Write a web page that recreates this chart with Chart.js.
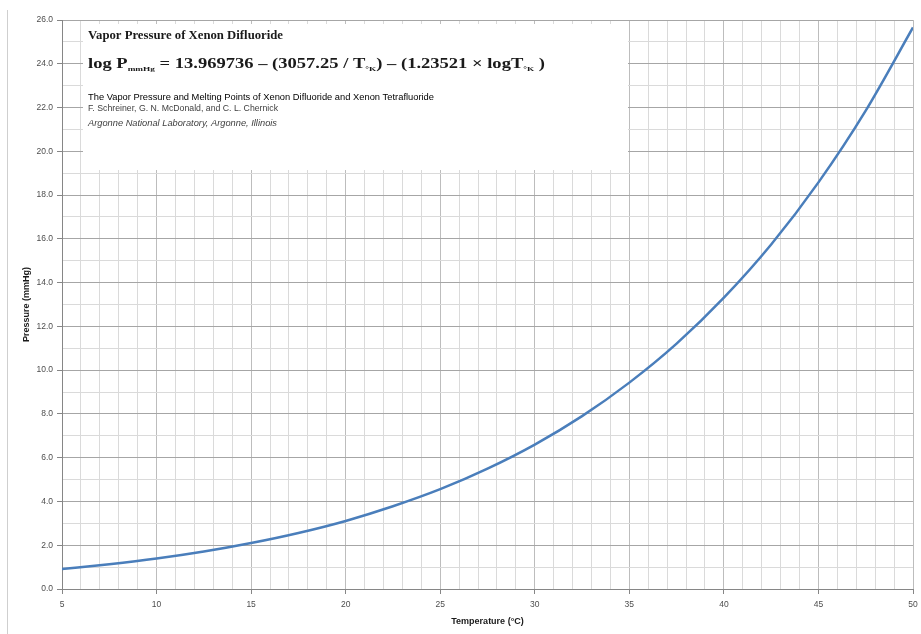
<!DOCTYPE html>
<html><head><meta charset="utf-8">
<style>html,body{margin:0;padding:0;background:#fff;}#wrap{width:921px;height:634px;position:relative;}</style>
<script src="https://cdn.jsdelivr.net/npm/chart.js@4.4.0/dist/chart.umd.min.js"></script>
</head><body><div id="wrap"><canvas id="c" width="921" height="634"></canvas></div>
<script>
// Data
const temperatureC = [5, 7.5, 10, 12.5, 15, 17.5, 20, 22.5, 25, 27.5, 30, 32.5, 35, 37.5, 40, 42.5, 45, 47.5, 50];
const pressureMmHg = [0.91, 1.13, 1.39, 1.71, 2.10, 2.56, 3.11, 3.78, 4.56, 5.50, 6.60, 7.90, 9.43, 11.21, 13.31, 15.74, 18.58, 21.86, 25.66];
const xTickLabels = [5, 10, 15, 20, 25, 30, 35, 40, 45, 50];
const yTickLabels = [0, 2, 4, 6, 8, 10, 12, 14, 16, 18, 20, 22, 24, 26];
const xTitle = 'Temperature (°C)';
const yTitle = 'Pressure (mmHg)';
const boxTitle = 'Vapor Pressure of Xenon Difluoride';
const refLine1 = 'The Vapor Pressure and Melting Points of Xenon Difluoride and Xenon Tetrafluoride';
const refLine2 = 'F. Schreiner, G. N. McDonald, and C. L. Chernick';
const refLine3 = 'Argonne National Laboratory, Argonne, Illinois';

const MAJOR_H = '#a6a6a6', MAJOR_V = '#bdbdbd', MINOR_GRID = '#dadada', AXIS = '#868686';

function drawFit(ctx, text, x, y, targetW) {
  const w = ctx.measureText(text).width;
  ctx.save();
  ctx.translate(x, y);
  ctx.scale(targetW / w, 1);
  ctx.fillText(text, 0, 0);
  ctx.restore();
}

const infoBox = {
  id: 'infoBox',
  beforeDraw(chart) {
    const ctx = chart.ctx;
    ctx.save();
    ctx.strokeStyle = '#cfcfcf';
    ctx.lineWidth = 1;
    ctx.beginPath(); ctx.moveTo(7.5, 10); ctx.lineTo(7.5, 634); ctx.stroke();
    ctx.restore();
  },
  beforeDatasetsDraw(chart) {
    const ctx = chart.ctx, a = chart.chartArea;
    const left = a.left + 21, top = a.top + 4;
    ctx.save();
    ctx.fillStyle = '#ffffff';
    ctx.fillRect(left, top, 545, 146);
    const tx = a.left + 26;
    ctx.fillStyle = '#1a1a1a';
    ctx.textBaseline = 'alphabetic';
    ctx.font = 'bold 12px "Liberation Serif", "Times New Roman", serif';
    drawFit(ctx, boxTitle, tx, a.top + 19, 195);

    // equation with subscripts
    const big = 'bold 14px "Liberation Serif", serif';
    const small = 'bold 7px "Liberation Serif", serif';
    const parts = [
      ['log P', big, 0], ['mmHg', small, 3], [' = 13.969736 – (3057.25 / T', big, 0], ['°K', small, 3],
      [') – (1.23521 × logT', big, 0], ['°K', small, 3], [' )', big, 0]
    ];
    let total = 0;
    parts.forEach(p => { ctx.font = p[1]; total += ctx.measureText(p[0]).width; });
    const sc = 457 / total;
    ctx.save();
    ctx.translate(tx, a.top + 48);
    ctx.scale(sc, 1);
    let cx = 0;
    parts.forEach(p => { ctx.font = p[1]; ctx.fillText(p[0], cx, p[2]); cx += ctx.measureText(p[0]).width; });
    ctx.restore();

    ctx.fillStyle = '#000000';
    ctx.font = '9px "Liberation Sans", Arial, sans-serif';
    drawFit(ctx, refLine1, tx, a.top + 80, 346);
    ctx.fillStyle = '#404040';
    drawFit(ctx, refLine2, tx, a.top + 91, 190);
    ctx.font = 'italic 9px "Liberation Sans", Arial, sans-serif';
    drawFit(ctx, refLine3, tx, a.top + 106, 189);
    ctx.restore();
  }
};

new Chart(document.getElementById('c'), {
  type: 'line',
  data: {
    datasets: [{
      data: temperatureC.map((t, i) => ({ x: t, y: pressureMmHg[i] })),
      borderColor: '#4a7ebb',
      borderWidth: 2.5,
      pointRadius: 0,
      cubicInterpolationMode: 'monotone',
      fill: false
    }]
  },
  options: {
    responsive: false,
    animation: false,
    devicePixelRatio: 1,
    layout: { padding: { left: 21, right: 8, top: 20, bottom: 7 } },
    plugins: { legend: { display: false }, tooltip: { enabled: false } },
    scales: {
      x: {
        type: 'linear', min: 5, max: 50,
        afterFit(s) { s.height = 38; s.paddingRight = 0; s.paddingLeft = 0; },
        ticks: {
          stepSize: 1, autoSkip: false, maxRotation: 0, padding: 6,
          color: '#4d4d4d', font: { family: '"Liberation Sans", Arial, sans-serif', size: 8.5 },
          callback: v => xTickLabels.includes(v) ? String(v) : ''
        },
        grid: {
          color: c => (c.tick && xTickLabels.includes(c.tick.value)) ? MAJOR_V : MINOR_GRID,
          tickColor: c => (c.tick && xTickLabels.includes(c.tick.value)) ? AXIS : 'rgba(0,0,0,0)',
          tickLength: 5, lineWidth: 1
        },
        border: { color: AXIS, width: 1 },
        title: { display: true, text: xTitle, color: '#1a1a1a', padding: 0,
          font: { family: '"Liberation Sans", Arial, sans-serif', size: 9, weight: 'bold' } }
      },
      y: {
        min: 0, max: 26,
        afterFit(s) { s.width = 41; s.paddingTop = 0; s.paddingBottom = 0; },
        ticks: {
          stepSize: 1, autoSkip: false, padding: 4,
          color: '#4d4d4d', font: { family: '"Liberation Sans", Arial, sans-serif', size: 8.5 },
          callback: v => yTickLabels.includes(v) ? v.toFixed(1) : ''
        },
        grid: {
          color: c => (c.tick && yTickLabels.includes(c.tick.value)) ? MAJOR_H : MINOR_GRID,
          tickColor: c => (c.tick && yTickLabels.includes(c.tick.value)) ? AXIS : 'rgba(0,0,0,0)',
          tickLength: 5, lineWidth: 1
        },
        border: { color: AXIS, width: 1 },
        title: { display: true, text: yTitle, color: '#1a1a1a', padding: 0,
          font: { family: '"Liberation Sans", Arial, sans-serif', size: 9, weight: 'bold' } }
      }
    }
  },
  plugins: [infoBox]
});
</script></body></html>
